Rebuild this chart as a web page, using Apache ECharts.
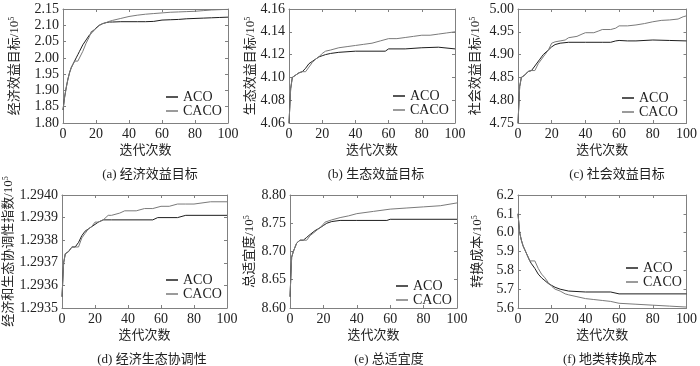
<!DOCTYPE html>
<html><head><meta charset="utf-8">
<script src="https://cdn.jsdelivr.net/npm/echarts@6/dist/echarts.min.js"></script>
<style>html,body{margin:0;padding:0;background:#fff}#c{width:700px;height:366px}</style>
</head><body><div id="c"></div>
<script>
// ---- data ----
const seriesNames = ['ACO', 'CACO'];
const xTicks = [0, 20, 40, 60, 80, 100];
const xAxisName = '迭代次数';

// (a) 经济效益目标
const aAcoX = [0,1,2,3,4,5,6,7,8,9,10,12,14,16,18,20,22,24,26,28,30,35,40,45,50,55,60,65,70,75,80,85,90,95,100];
const aAcoY = [1.84,1.88,1.91,1.935,1.955,1.97,1.98,1.99,2.0,2.01,2.02,2.04,2.055,2.07,2.08,2.092,2.10,2.105,2.108,2.11,2.11,2.111,2.111,2.111,2.111,2.112,2.116,2.117,2.118,2.12,2.121,2.122,2.123,2.124,2.125];
const aCacoX = [0,1,2,3,4,5,6,7,8,9,10,12,14,16,17,18,20,22,24,26,28,30,35,40,45,50,55,60,65,70,75,80,85,90,95,100];
const aCacoY = [1.84,1.88,1.91,1.935,1.955,1.97,1.98,1.99,1.99,1.99,1.99,2.02,2.045,2.065,2.08,2.08,2.09,2.10,2.105,2.108,2.112,2.115,2.121,2.127,2.131,2.134,2.136,2.138,2.14,2.141,2.142,2.143,2.145,2.147,2.148,2.149];

// (b) 生态效益目标
const bAcoX = [0,1,2,4,6,8,10,12,14,16,18,20,22,25,30,40,50,58,60,70,80,90,100];
const bAcoY = [4.06,4.09,4.10,4.102,4.104,4.105,4.108,4.112,4.114,4.116,4.118,4.119,4.120,4.121,4.122,4.123,4.123,4.123,4.125,4.125,4.126,4.1265,4.125];
const bCacoX = [0,1,2,4,6,8,9,10,12,14,16,18,20,22,25,30,35,40,45,50,55,60,65,70,75,80,85,90,95,100];
const bCacoY = [4.06,4.09,4.10,4.102,4.104,4.105,4.105,4.105,4.109,4.113,4.116,4.118,4.121,4.123,4.124,4.126,4.127,4.128,4.129,4.130,4.132,4.134,4.134,4.135,4.136,4.137,4.137,4.138,4.139,4.140];

// (c) 社会效益目标
const cAcoX = [0,1,2,4,6,8,10,13,15,18,20,22,25,30,40,50,55,58,60,65,70,80,90,100];
const cAcoY = [4.75,4.83,4.85,4.855,4.863,4.865,4.875,4.89,4.90,4.91,4.917,4.922,4.925,4.927,4.927,4.927,4.927,4.93,4.931,4.930,4.930,4.932,4.931,4.930];
const cCacoX = [0,1,2,4,6,8,10,12,15,18,20,22,25,28,30,35,38,40,45,48,50,55,58,60,65,70,75,80,85,90,95,98,100];
const cCacoY = [4.75,4.83,4.85,4.855,4.863,4.865,4.865,4.88,4.895,4.91,4.925,4.928,4.93,4.932,4.937,4.94,4.945,4.948,4.948,4.952,4.955,4.955,4.958,4.963,4.963,4.965,4.968,4.972,4.975,4.976,4.978,4.983,4.985];

// (d) 经济生态协调性
const dAcoX = [0,1,2,4,6,8,10,12,14,16,18,20,22,25,30,40,55,58,60,70,75,80,100];
const dAcoY = [1.29355,1.2937,1.29374,1.29375,1.29377,1.29377,1.29379,1.29382,1.29384,1.29385,1.29386,1.29387,1.29388,1.29389,1.29389,1.29389,1.29389,1.2939,1.2939,1.2939,1.29391,1.29391,1.29391];
const dCacoX = [0,1,2,4,6,8,10,12,14,16,18,20,22,25,28,30,35,38,40,45,50,55,60,65,70,75,80,90,100];
const dCacoY = [1.29355,1.2937,1.29374,1.29375,1.29377,1.29377,1.29377,1.29381,1.29383,1.29385,1.29386,1.29388,1.29388,1.29389,1.29391,1.29391,1.29392,1.29393,1.29393,1.29393,1.29394,1.29394,1.29395,1.29395,1.29396,1.29396,1.29396,1.29397,1.29397];

// (e) 总适宜度
const eAcoX = [0,1,2,4,6,8,10,12,15,18,20,22,25,30,40,58,60,100];
const eAcoY = [8.62,8.69,8.70,8.715,8.72,8.72,8.725,8.73,8.737,8.742,8.746,8.75,8.753,8.755,8.755,8.755,8.757,8.757];
const eCacoX = [0,1,2,4,6,8,10,12,15,17,19,21,22,25,30,35,40,50,60,70,80,90,100];
const eCacoY = [8.62,8.69,8.70,8.715,8.72,8.72,8.72,8.728,8.735,8.74,8.745,8.752,8.755,8.756,8.76,8.763,8.767,8.771,8.775,8.777,8.779,8.781,8.786];

// (f) 地类转换成本
const fAcoX = [0,1,2,3,4,5,6,7,8,10,12,14,16,18,20,22,25,30,40,55,60,100];
const fAcoY = [6.1,6.0,5.96,5.93,5.91,5.89,5.87,5.85,5.835,5.81,5.78,5.76,5.745,5.73,5.72,5.71,5.70,5.69,5.685,5.685,5.675,5.675];
const fCacoX = [0,1,2,3,4,5,6,7,8,10,12,14,16,18,20,22,25,28,30,35,40,45,50,55,60,70,80,90,100];
const fCacoY = [6.1,6.0,5.96,5.93,5.91,5.89,5.87,5.85,5.85,5.85,5.81,5.78,5.76,5.735,5.715,5.70,5.69,5.675,5.67,5.66,5.65,5.645,5.64,5.635,5.625,5.62,5.615,5.61,5.605];

const captions = ['(a) 经济效益目标','(b) 生态效益目标','(c) 社会效益目标','(d) 经济生态协调性','(e) 总适宜度','(f) 地类转换成本'];
const yNames = ['经济效益目标/10','生态效益目标/10','社会效益目标/10','经济和生态协调性指数/10','总适宜度/10','转换成本/10'];
const yMins = [1.80, 4.06, 4.75, 1.2935, 8.60, 5.6];
const yMaxs = [2.15, 4.16, 5.00, 1.2940, 8.80, 6.2];
const yIntervals = [0.05, 0.02, 0.05, 0.0001, 0.05, 0.1];
const yDecimals = [2, 2, 2, 4, 2, 1];

// ---- layout ----
const panels = [
  {grid:{left:63,top:9,width:165,height:114}, gap:42, cap:[145,163], leg:[166,90], acoX:aAcoX, acoY:aAcoY, cacoX:aCacoX, cacoY:aCacoY},
  {grid:{left:289,top:9,width:166,height:114}, gap:31, cap:[371,163], leg:[393,89], acoX:bAcoX, acoY:bAcoY, cacoX:bCacoX, cacoY:bCacoY},
  {grid:{left:518,top:9,width:170,height:114}, gap:36, cap:[612,163], leg:[622,91], acoX:cAcoX, acoY:cAcoY, cacoX:cCacoX, cacoY:cCacoY},
  {grid:{left:62,top:195,width:165,height:113}, gap:47, cap:[147,348], leg:[166,273], acoX:dAcoX, acoY:dAcoY, cacoX:dCacoX, cacoY:dCacoY},
  {grid:{left:290,top:195,width:167,height:113}, gap:34, cap:[384,348], leg:[396,279], acoX:eAcoX, acoY:eAcoY, cacoX:eCacoX, cacoY:eCacoY},
  {grid:{left:518,top:195,width:173,height:113}, gap:34, cap:[605,348], leg:[626,261], acoX:fAcoX, acoY:fAcoY, cacoX:fCacoX, cacoY:fCacoY}
];

const FONT = '"Liberation Serif", "Noto Sans CJK SC", serif';
const frame = '#808080';
const txt = '#222';
const colors = {ACO:'#1e1e1e', CACO:'#7a7a7a'};

const option = {animation:false, backgroundColor:'#fff', grid:[], xAxis:[], yAxis:[], series:[], title:[], legend:[]};

panels.forEach((p, i) => {
  option.grid.push(Object.assign({show:false}, p.grid));
  const tick = {show:true, inside:true, length:3, lineStyle:{color:frame}};
  const line = {show:true, onZero:false, lineStyle:{color:frame, width:1}};
  option.xAxis.push({type:'value', gridIndex:i, min:xTicks[0], max:xTicks[xTicks.length-1], interval:20,
    axisLine:line, axisTick:tick, splitLine:{show:false},
    axisLabel:{color:txt, fontFamily:FONT, fontSize:14, margin:4},
    name:xAxisName, nameLocation:'middle', nameGap:21,
    nameTextStyle:{color:txt, fontFamily:FONT, fontSize:13}});
  option.xAxis.push({type:'value', gridIndex:i, position:'top', min:0, max:100, interval:20,
    axisLine:line, axisTick:tick, splitLine:{show:false}, axisLabel:{show:false}});
  option.yAxis.push({type:'value', gridIndex:i, min:yMins[i], max:yMaxs[i], interval:yIntervals[i],
    axisLine:line, axisTick:tick, splitLine:{show:false},
    axisLabel:{color:txt, fontFamily:FONT, fontSize:14, margin:4, formatter:v => v.toFixed(yDecimals[i])},
    name:'{a|' + yNames[i] + '}{s|5}', nameLocation:'middle', nameGap:p.gap, nameRotate:90,
    nameTextStyle:{rich:{a:{color:txt, fontFamily:FONT, fontSize:13}, s:{color:txt, fontFamily:FONT, fontSize:8, verticalAlign:'top'}}}});
  option.yAxis.push({type:'value', gridIndex:i, position:'right', min:yMins[i], max:yMaxs[i], interval:yIntervals[i],
    axisLine:line, axisTick:tick, splitLine:{show:false}, axisLabel:{show:false}});
  const mk = (name, xs, ys) => ({type:'line', name:name, xAxisIndex:2*i, yAxisIndex:2*i, showSymbol:false, symbol:'none',
    lineStyle:{color:colors[name], width:1}, itemStyle:{color:colors[name]},
    data: xs.map((x, k) => [x, ys[k]])});
  option.series.push(mk('ACO', p.acoX, p.acoY));
  option.series.push(mk('CACO', p.cacoX, p.cacoY));
  option.title.push({text:captions[i], left:p.cap[0], top:p.cap[1], textAlign:'center',
    textStyle:{color:txt, fontFamily:FONT, fontSize:13, fontWeight:'normal'}});
  option.legend.push({data:seriesNames, left:p.leg[0], top:p.leg[1], orient:'vertical', itemGap:0,
    itemWidth:12, itemHeight:1.5, icon:'rect', padding:0,
    textStyle:{color:txt, fontFamily:FONT, fontSize:14}});
});

const chart = echarts.init(document.getElementById('c'), null, {renderer:'canvas'});
chart.setOption(option);
</script></body></html>
